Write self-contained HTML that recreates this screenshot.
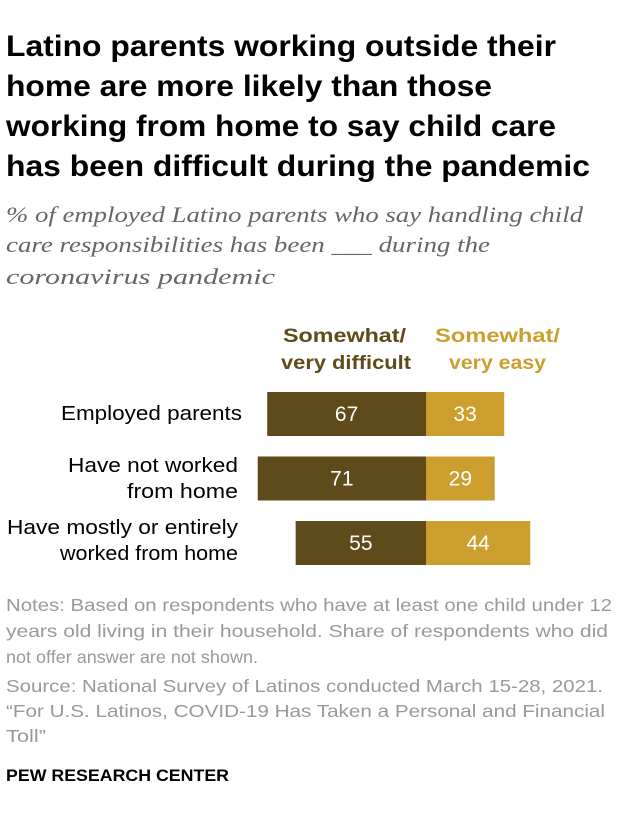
<!DOCTYPE html>
<html><head><meta charset="utf-8"><style>
body{margin:0;width:620px;height:824px;background:#fff;font-family:"Liberation Sans",sans-serif;overflow:hidden}
svg{position:absolute;left:0;top:0}
.t{font-family:"Liberation Sans",sans-serif;font-weight:bold;font-size:30px;fill:#000}
.s{font-family:"Liberation Serif",serif;font-style:italic;font-size:22px;fill:#666}
.l{font-family:"Liberation Sans",sans-serif;font-size:20px;fill:#000}
.h{font-family:"Liberation Sans",sans-serif;font-weight:bold;font-size:19.5px}
.n{font-family:"Liberation Sans",sans-serif;font-size:17.5px;fill:#999}
</style></head><body>
<svg id="c" width="620" height="824">
<g>
<text class="t" x="6" y="56" textLength="550" lengthAdjust="spacingAndGlyphs">Latino parents working outside their</text>
<text class="t" x="6" y="96" textLength="486" lengthAdjust="spacingAndGlyphs">home are more likely than those</text>
<text class="t" x="6" y="136" textLength="550" lengthAdjust="spacingAndGlyphs">working from home to say child care</text>
<text class="t" x="6" y="176" textLength="584" lengthAdjust="spacingAndGlyphs">has been difficult during the pandemic</text>
</g>
<g>
<text class="s" x="6" y="222" textLength="577" lengthAdjust="spacingAndGlyphs">% of employed Latino parents who say handling child</text>
<text class="s" x="6" y="252" textLength="484" lengthAdjust="spacingAndGlyphs">care responsibilities has been ___ during the</text>
<text class="s" x="6" y="284" textLength="269" lengthAdjust="spacingAndGlyphs">coronavirus pandemic</text>
</g>
<g fill="#5e4a1a">
<text class="h" x="283" y="342" textLength="123" lengthAdjust="spacingAndGlyphs">Somewhat/</text>
<text class="h" x="281" y="369" textLength="130" lengthAdjust="spacingAndGlyphs">very difficult</text>
</g>
<g fill="#cc9e2e">
<text class="h" x="435" y="342" textLength="125" lengthAdjust="spacingAndGlyphs">Somewhat/</text>
<text class="h" x="449" y="369" textLength="97" lengthAdjust="spacingAndGlyphs">very easy</text>
</g>
<g>
<text class="l" x="61" y="420" textLength="181" lengthAdjust="spacingAndGlyphs">Employed parents</text>
<text class="l" x="68" y="472" textLength="170" lengthAdjust="spacingAndGlyphs">Have not worked</text>
<text class="l" x="127" y="498" textLength="111" lengthAdjust="spacingAndGlyphs">from home</text>
<text class="l" x="7" y="534" textLength="231" lengthAdjust="spacingAndGlyphs">Have mostly or entirely</text>
<text class="l" x="60" y="560" textLength="178" lengthAdjust="spacingAndGlyphs">worked from home</text>
</g>
<g id="bars"></g>
<g>
<text class="n" x="6" y="611" textLength="606" lengthAdjust="spacingAndGlyphs">Notes: Based on respondents who have at least one child under 12</text>
<text class="n" x="6" y="637" textLength="602" lengthAdjust="spacingAndGlyphs">years old living in their household. Share of respondents who did</text>
<text class="n" x="6" y="663" textLength="252" lengthAdjust="spacingAndGlyphs">not offer answer are not shown.</text>
<text class="n" x="6" y="692" textLength="597" lengthAdjust="spacingAndGlyphs">Source: National Survey of Latinos conducted March 15-28, 2021.</text>
<text class="n" x="6" y="717" textLength="599" lengthAdjust="spacingAndGlyphs">“For U.S. Latinos, COVID-19 Has Taken a Personal and Financial</text>
<text class="n" x="6" y="742" textLength="40" lengthAdjust="spacingAndGlyphs">Toll”</text>
</g>
<text x="6" y="781" font-family="Liberation Sans, sans-serif" font-weight="bold" font-size="17" textLength="223" lengthAdjust="spacingAndGlyphs">PEW RESEARCH CENTER</text>
</svg>
<script>
const categories=["Employed parents","Have not worked from home","Have mostly or entirely worked from home"];
const difficult=[67,71,55];
const easy=[33,29,44];
const g=document.getElementById('bars');
const cx=426,k=2.37,top0=392,step=64.5,bh=44;
const x=v=>v*k;
const ns="http://www.w3.org/2000/svg";
function mk(tag,a){const e=document.createElementNS(ns,tag);for(const p in a)e.setAttribute(p,a[p]);g.appendChild(e);return e;}
categories.forEach((c,i)=>{
 const y=top0+i*step;
 const r1=mk('rect',{x:cx-x(difficult[i]),y:y,width:x(difficult[i]),height:bh,fill:'#5e4a1a'});
 
 
 const r2=mk('rect',{x:cx,y:y,width:x(easy[i]),height:bh,fill:'#cc9e2e'});
 
 
 const t1=mk('text',{x:cx-x(difficult[i])/2,y:y+29,'text-anchor':'middle',fill:'#fff','font-size':21,'font-family':'Liberation Sans, sans-serif'});
 t1.textContent=difficult[i];
 
 
 const t2=mk('text',{x:cx+x(easy[i])/2,y:y+29,'text-anchor':'middle',fill:'#fff','font-size':21,'font-family':'Liberation Sans, sans-serif'});
 t2.textContent=easy[i];
 
 
});
</script>
</body></html>
